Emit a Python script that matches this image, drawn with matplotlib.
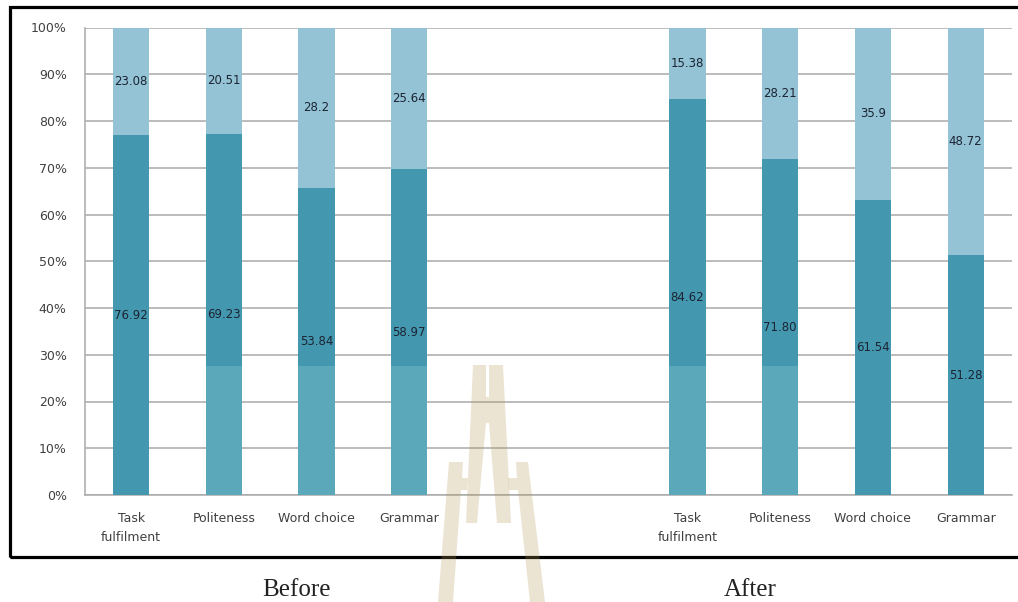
import numpy as np
import matplotlib.pyplot as plt
from matplotlib.patches import Polygon, Rectangle

# ---- data ----
categories = ["Task\nfulfilment", "Politeness", "Word choice", "Grammar", "", "",
              "Task\nfulfilment", "Politeness", "Word choice", "Grammar"]
lower_vals = [76.92, 69.23, 53.84, 58.97, np.nan, np.nan, 84.62, 71.80, 61.54, 51.28]
upper_vals = [23.08, 20.51, 28.2, 25.64, np.nan, np.nan, 15.38, 28.21, 35.9, 48.72]
lower_labels = ["76.92", "69.23", "53.84", "58.97", "", "", "84.62", "71.80", "61.54", "51.28"]
upper_labels = ["23.08", "20.51", "28.2", "25.64", "", "", "15.38", "28.21", "35.9", "48.72"]
# paler band printed at the foot of some columns
foot_band = [0, 27.6, 27.6, 27.6, 0, 0, 27.6, 27.6, 0, 0]
groups = ["Before", "After"]

lower = np.array(lower_vals)
upper = np.array(upper_vals)
total = lower + upper
lower_pct = lower / total * 100
upper_pct = upper / total * 100
x = np.arange(len(categories))

c_dark = "#4397AF"
c_light = "#93C3D5"
c_band = "#5CA8BB"

fig = plt.figure(figsize=(10.18, 6.02), dpi=100)
W, H = 1018, 602
ax = fig.add_axes([84.7 / W, 1 - 495 / H, (1012 - 84.7) / W, (495 - 27.5) / H])

bw = 0.39
ax.bar(x, lower_pct, width=bw, color=c_dark, zorder=3)
ax.bar(x, upper_pct, width=bw, bottom=lower_pct, color=c_light, zorder=3)
ax.bar(x, np.where(np.array(foot_band) > 0, foot_band, np.nan), width=bw,
       color=c_band, zorder=3.5)

for i in range(len(x)):
    if np.isnan(lower_pct[i]):
        continue
    ax.text(x[i], lower_pct[i] / 2, lower_labels[i], ha="center", va="center",
            fontsize=8.5, color="#1c2433", zorder=5)
    ax.text(x[i], lower_pct[i] + upper_pct[i] / 2, upper_labels[i], ha="center",
            va="center", fontsize=8.5, color="#1c2433", zorder=5)

ax.set_xlim(-0.5, len(x) - 0.5)
ax.set_ylim(0, 100)
ax.set_yticks(np.arange(0, 101, 10))
ax.set_yticklabels([f"{v}%" for v in range(0, 101, 10)])
ax.set_xticks(x)
ax.set_xticklabels(categories, linespacing=1.65)
ax.tick_params(axis="y", length=0, pad=13, labelsize=9, labelcolor="#404040")
ax.tick_params(axis="x", length=0, pad=12, labelsize=9, labelcolor="#404040")

ax.grid(axis="y", color="#AAAAAA", linewidth=1.1, zorder=0)
for s in ["top", "right"]:
    ax.spines[s].set_visible(False)
for s in ["left", "bottom"]:
    ax.spines[s].set_color("#AAAAAA")
    ax.spines[s].set_linewidth(1.1)

# outer frame around the chart
fig.patches.append(Rectangle((10 / W, 1 - 557 / H), 1020 / W, 550 / H,
                             transform=fig.transFigure, fill=False,
                             edgecolor="black", linewidth=2.3))

# group captions below the frame
fig.text(296 / W, 1 - 590 / H, groups[0], ha="center", va="center",
         family="Liberation Serif", fontsize=18, color="#222222")
fig.text(750 / W, 1 - 590 / H, groups[1], ha="center", va="center",
         family="Liberation Serif", fontsize=18, color="#222222")

# faint spire-shaped watermark (pieces do not overlap, so the tint stays even)
spire = [
    [(473, 365), (486, 365), (486, 397), (489, 397), (489, 365), (503, 365),
     (511, 523), (497, 523), (489, 423), (486, 423), (477, 523), (466, 523)],
    [(449, 462), (463, 462), (462, 478), (468, 478), (467, 490), (461, 490),
     (453, 602), (438, 602)],
    [(516, 462), (528, 462), (545, 602), (530, 602), (518, 490), (509, 490),
     (508, 478), (517, 478)],
]
for pts in spire:
    fig.patches.append(Polygon([(px / W, 1 - py / H) for px, py in pts],
                               closed=True, transform=fig.transFigure,
                               facecolor="#B69858", edgecolor="none",
                               alpha=0.26, zorder=10))

fig.savefig("out.png", dpi=100)
